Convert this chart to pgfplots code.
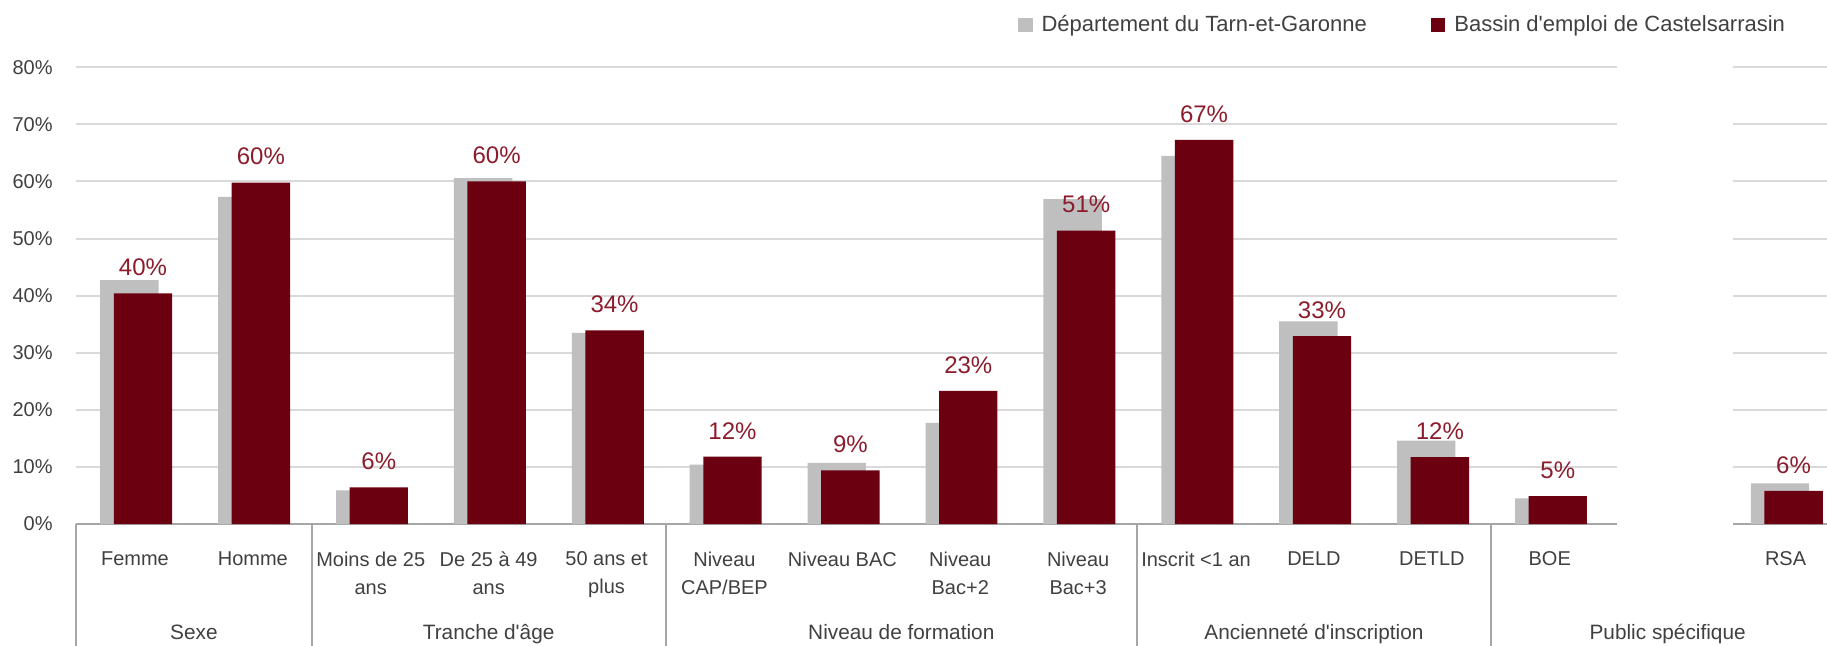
\documentclass[border=0pt]{standalone}
\usepackage{fontspec}
\setmainfont{Liberation Sans}
\usepackage{pgfplots}
\usepackage{pgfplotstable}
\pgfplotsset{compat=1.18}

\definecolor{depgray}{HTML}{BFBFBF}
\definecolor{bassin}{HTML}{6B0010}
\definecolor{lblred}{HTML}{8C1C2C}
\definecolor{gridgray}{HTML}{D9D9D9}
\definecolor{axgray}{HTML}{A6A6A6}
\definecolor{txt}{HTML}{404040}

% part des demandeurs d'emploi (%), slot 13 laisse vide
\pgfplotstableread{
x  dep   bassin
0  42.7  40.4
1  57.3  59.8
2  5.9   6.4
3  60.6  60.0
4  33.5  33.9
5  10.4  11.8
6  10.7  9.4
7  17.7  23.3
8  56.9  51.4
9  64.5  67.3
10 35.5  32.9
11 14.6  11.7
12 4.5   4.9
14 7.1   5.8
}\data

\newcommand{\q}{\textquotesingle{}}

\begin{document}
\begin{tikzpicture}
\useasboundingbox (0,0) rectangle (913.5pt,322.5pt);
\clip (0,0) rectangle (913.5pt,322.5pt);
\begin{axis}[
  at={(38pt,60.5pt)}, anchor=south west,
  scale only axis, width=884.25pt, height=228.35pt,
  xmin=-0.5, xmax=14.5, ymin=0, ymax=80,
  clip=false,
  /pgf/number format/assume math mode=true,
  ybar, bar width=0.495,
  axis x line*=bottom, axis y line*=left,
  x axis line style={draw=axgray, line width=1.2pt, -},
  y axis line style={draw=none},
  ymajorgrids, grid style={draw=gridgray, line width=1pt},
  major tick length=0pt, tick align=outside,
  ytick={0,10,...,80},
  yticklabels={0\%,10\%,20\%,30\%,40\%,50\%,60\%,70\%,80\%},
  yticklabel style={font=\fontsize{10}{12}\selectfont, text=txt, inner sep=0pt, xshift=-11.5pt},
  xtick=data,
  xticklabels={Femme, Homme, Moins de 25\\ans, De 25 à 49\\ans, 50 ans et\\plus,
    Niveau\\CAP/BEP, Niveau BAC, Niveau\\Bac+2, Niveau\\Bac+3,
    Inscrit <1 an, DELD, DETLD, BOE, RSA},
  xticklabel style={align=center, font=\fontsize{10}{14}\selectfont, text=txt, inner sep=0pt, yshift=-13.7pt},
  extra x ticks={-0.5,1.5,4.5,8.5,11.5},
  extra x tick labels={},
  extra x tick style={major tick length=64pt, tick style={draw=axgray, line width=1pt}},
  legend columns=2,
  legend style={draw=none, fill=none, at={(0.5327,1.0926)}, anchor=west,
    inner sep=0pt, outer sep=0pt,
    nodes={inner sep=0pt, font=\fontsize{11}{13}\selectfont, text=txt},
    /tikz/every odd column/.append style={column sep=4.5pt},
    /tikz/every even column/.append style={column sep=32pt}},
]
\addplot[fill=depgray, draw=none, bar shift=-0.047,
  legend image code/.code={\fill[depgray] (0pt,-3.6pt) rectangle (7.25pt,3.6pt);}]
  table[x=x, y=dep] {\data};
\addlegendentry{Département du Tarn-et-Garonne}
\addplot[fill=bassin, draw=none, bar shift=0.068,
  legend image code/.code={\fill[bassin] (0pt,-3.6pt) rectangle (7.25pt,3.6pt);},
  nodes near coords={\pgfmathprintnumber[fixed,precision=0,assume math mode=true]{\pgfplotspointmeta}\%},
  every node near coord/.append style={anchor=south, inner sep=0pt, yshift=8.5pt,
    font=\fontsize{12}{14}\selectfont, text=lblred}]
  table[x=x, y=bassin] {\data};
\addlegendentry{Bassin d\q emploi de Castelsarrasin}

% zone vide entre BOE et RSA
\fill[white] (axis cs:12.57,-0.6) rectangle (axis cs:13.55,82);

\begin{scope}[every node/.style={font=\fontsize{10.4}{12}\selectfont, text=txt, anchor=base}]
\node[yshift=-57.75pt] at (axis cs:0.5,0) {Sexe};
\node[yshift=-57.75pt] at (axis cs:3,0) {Tranche d\q âge};
\node[yshift=-57.75pt] at (axis cs:6.5,0) {Niveau de formation};
\node[yshift=-57.75pt] at (axis cs:10,0) {Ancienneté d\q inscription};
\node[yshift=-57.75pt] at (axis cs:13,0) {Public spécifique};
\end{scope}
\end{axis}
\end{tikzpicture}
\end{document}
